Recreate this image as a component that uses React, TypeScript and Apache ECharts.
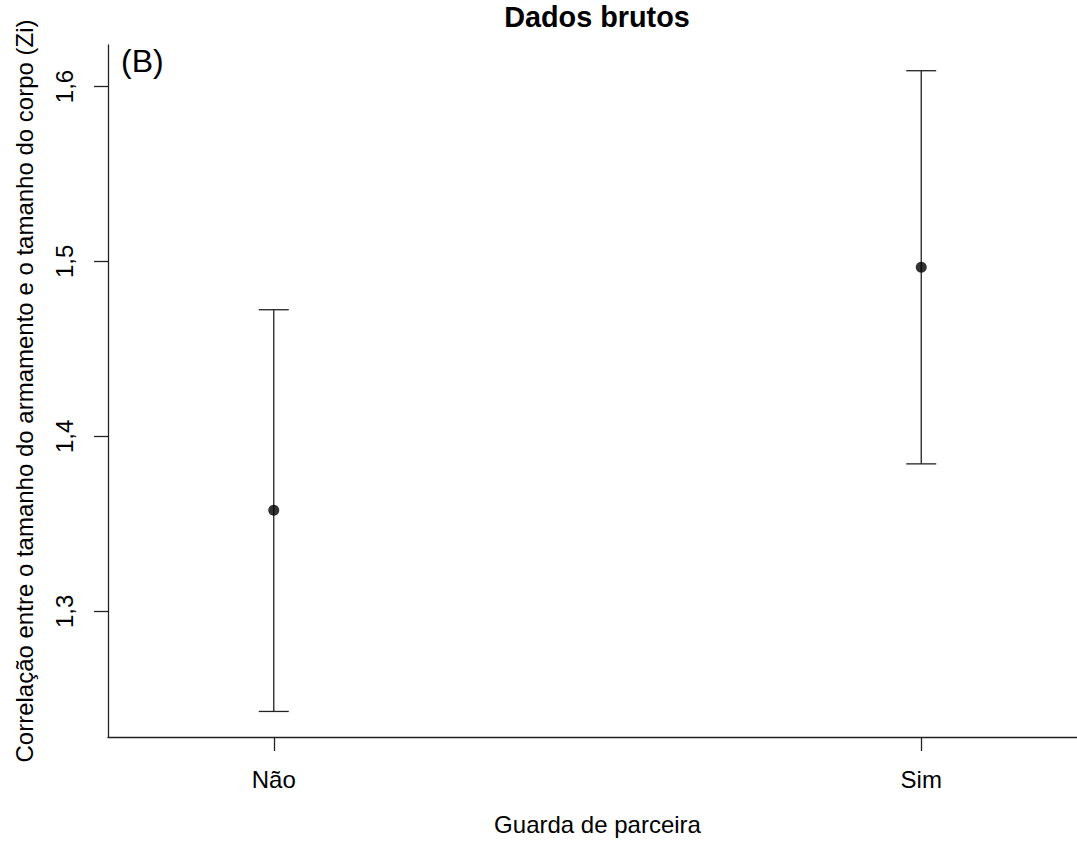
import React, { useEffect, useRef } from "react";
import * as echarts from "echarts";

const categories = ["Não", "Sim"];
const xPositions = [1, 2];
const means = [1.3578, 1.4967];
const lowers = [1.2428, 1.3843];
const uppers = [1.4724, 1.609];
const yTicks = [1.3, 1.4, 1.5, 1.6];

const FONT = "Liberation Sans, Arial, sans-serif";

export default function App() {
  const ref = useRef<HTMLDivElement>(null);
  useEffect(() => {
    document.body.style.margin = "0";
    const chart = echarts.init(ref.current!, undefined, { renderer: "svg" });
    const errData = xPositions.map((x, i) => [x, lowers[i], uppers[i]]);
    const ptData = xPositions.map((x, i) => [x, means[i]]);
    chart.setOption({
      animation: false,
      backgroundColor: "#ffffff",
      textStyle: { fontFamily: FONT },
      title: {
        text: "Dados brutos",
        left: 597,
        textAlign: "center",
        top: 2,
        padding: 0,
        textStyle: { fontFamily: FONT, fontSize: 28.8, fontWeight: "bold", color: "#000" },
      },
      graphic: [
        {
          type: "text",
          left: 121,
          top: 45,
          style: { text: "(B)", fontFamily: FONT, fontSize: 32, fill: "#000" },
        },
      ],
      grid: { left: 108, right: -10, top: 45, bottom: 106, outerBoundsMode: "none", containLabel: false },
      xAxis: {
        type: "value",
        min: 0.744,
        max: 2.256,
        name: "Guarda de parceira",
        nameLocation: "middle",
        nameGap: 75,
        nameTextStyle: { fontFamily: FONT, fontSize: 24, color: "#000" },
        splitLine: { show: false },
        axisLine: { show: true, onZero: false, lineStyle: { color: "#222", width: 1.3 } },
        axisTick: { show: true, customValues: xPositions, length: 14, lineStyle: { color: "#222", width: 1.3 } },
        axisLabel: {
          customValues: xPositions,
          formatter: (v: number) => categories[Math.round(v) - 1] ?? "",
          margin: 30,
          fontFamily: FONT,
          fontSize: 24,
          color: "#000",
        },
      },
      yAxis: {
        type: "value",
        min: 1.2282,
        max: 1.6237,
        name: "Correlação entre o tamanho do armamento e o tamanho do corpo (Zi)",
        nameLocation: "middle",
        nameRotate: 90,
        nameGap: 72,
        nameTextStyle: { fontFamily: FONT, fontSize: 24, color: "#000" },
        splitLine: { show: false },
        axisLine: { show: true, onZero: false, lineStyle: { color: "#222", width: 1.3 } },
        axisTick: { show: true, customValues: yTicks, length: 14, lineStyle: { color: "#222", width: 1.3 } },
        axisLabel: {
          customValues: yTicks,
          rotate: 90,
          formatter: (v: number) => v.toFixed(1).replace(".", ","),
          margin: 32,
          fontFamily: FONT,
          fontSize: 24,
          color: "#000",
        },
      },
      series: [
        {
          type: "custom",
          data: errData,
          renderItem: (params: any, api: any) => {
            const x = api.value(0);
            const lo = api.coord([x, api.value(1)]);
            const hi = api.coord([x, api.value(2)]);
            const hw = 15;
            const style = { stroke: "#222", lineWidth: 1.3 };
            return {
              type: "group",
              children: [
                { type: "line", shape: { x1: lo[0], y1: lo[1], x2: hi[0], y2: hi[1] }, style },
                { type: "line", shape: { x1: lo[0] - hw, y1: lo[1], x2: lo[0] + hw, y2: lo[1] }, style },
                { type: "line", shape: { x1: hi[0] - hw, y1: hi[1], x2: hi[0] + hw, y2: hi[1] }, style },
              ],
            };
          },
          z: 2,
        },
        {
          type: "scatter",
          data: ptData,
          symbol: "circle",
          symbolSize: 11,
          itemStyle: { color: "#000" },
          z: 3,
        },
      ],
    });
    return () => chart.dispose();
  }, []);
  return <div ref={ref} style={{ width: 1077, height: 843 }} />;
}
